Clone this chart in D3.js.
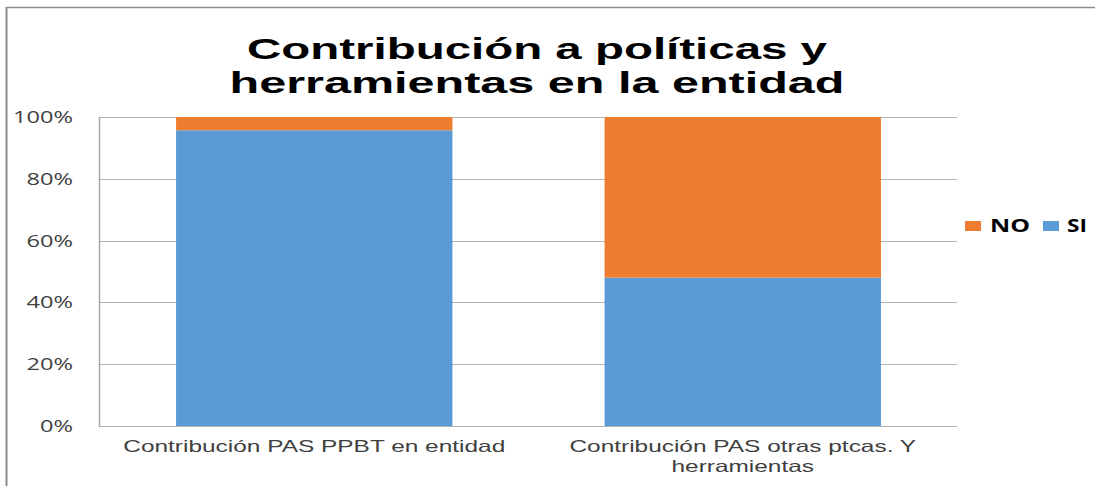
<!DOCTYPE html>
<html>
<head>
<meta charset="utf-8">
<script src="https://cdn.jsdelivr.net/npm/d3@7"></script>
<style>
  html, body { margin: 0; padding: 0; background: #fff; }
  svg { display: block; font-family: "Open Sans", "Liberation Sans", sans-serif; }
</style>
</head>
<body>
<svg id="chart" width="1095" height="486"></svg>
<script>
// Categories and series (percent of responses)
const categories = ["Contribución PAS PPBT en entidad", "Contribución PAS otras ptcas. Y herramientas"];
const categoryLines = [["Contribución PAS PPBT en entidad"], ["Contribución PAS otras ptcas. Y", "herramientas"]];
const seriesNames = ["SI", "NO"];
const siValues = [95.7, 48];
const noValues = [4.3, 52];
const tickValues = [0, 20, 40, 60, 80, 100];
const tickLabels = ["0%", "20%", "40%", "60%", "80%", "100%"];
const titleLines = ["Contribución a políticas y", "herramientas en la entidad"];

const colors = { SI: "#5B9BD5", NO: "#ED7D31" };

const svg = d3.select("#chart");

// Widen every text of a selection by one common factor, chosen so that
// the widest of them reaches targetWidth
function stretchTo(sel, targetWidth) {
  let maxW = 0;
  sel.each(function () { maxW = Math.max(maxW, this.getComputedTextLength()); });
  const f = targetWidth / maxW;
  sel.each(function () {
    const w = this.getComputedTextLength();
    d3.select(this).attr("textLength", w * f).attr("lengthAdjust", "spacingAndGlyphs");
  });
}

// Outer chart border (only left and top edges are visible)
svg.append("line").attr("x1", 6.5).attr("x2", 6.5).attr("y1", 7).attr("y2", 486)
  .attr("stroke", "#8c8c8c").attr("stroke-width", 2);
svg.append("line").attr("x1", 6).attr("x2", 1095).attr("y1", 7.5).attr("y2", 7.5)
  .attr("stroke", "#8c8c8c").attr("stroke-width", 1.5);

const plot = { left: 100, right: 957, top: 117, bottom: 426 };

const x = d3.scaleBand()
  .domain(categories)
  .range([plot.left, plot.right])
  .paddingInner(0.355)
  .paddingOuter(0.1775);

const y = d3.scaleLinear().domain([0, 100]).range([plot.bottom, plot.top]);

// Gridlines
svg.append("g")
  .selectAll("line")
  .data(tickValues)
  .join("line")
  .attr("x1", plot.left).attr("x2", plot.right)
  .attr("y1", d => Math.round(y(d)) + 0.5).attr("y2", d => Math.round(y(d)) + 0.5)
  .attr("stroke", "#b3b3b3").attr("stroke-width", 1.2);

// Stacked bars
const rows = categories.map((c, i) => ({ category: c, SI: siValues[i], NO: noValues[i] }));
const stack = d3.stack().keys(seriesNames)(rows);

svg.append("g")
  .selectAll("g")
  .data(stack)
  .join("g")
  .attr("fill", s => colors[s.key])
  .selectAll("rect")
  .data(s => s)
  .join("rect")
  .attr("x", d => x(d.data.category))
  .attr("width", x.bandwidth())
  .attr("y", d => y(d[1]))
  .attr("height", d => y(d[0]) - y(d[1]));

// Value axis line
svg.append("line")
  .attr("x1", plot.left - 0.5).attr("x2", plot.left - 0.5)
  .attr("y1", plot.top).attr("y2", plot.bottom + 1)
  .attr("stroke", "#a6a6a6").attr("stroke-width", 1.5);

// Y tick labels
const yAxis = d3.axisLeft(y).tickValues(tickValues)
  .tickFormat((d, i) => tickLabels[i]).tickSize(0).tickPadding(27);
const yg = svg.append("g").attr("transform", `translate(${plot.left},0)`).call(yAxis);
yg.select(".domain").remove();
yg.attr("font-family", null).attr("font-size", null);
yg.selectAll("text")
  .style("font-family", "'Open Sans', sans-serif")
  .style("font-size", "15.5px")
  .attr("fill", "#404040")
  .attr("dy", "0.35em")
  .call(stretchTo, 60);

// Category labels
const xg = svg.append("g");
categories.forEach((c, i) => {
  const cx = x(c) + x.bandwidth() / 2;
  categoryLines[i].forEach((ln, j) => {
    xg.append("text")
      .attr("x", cx)
      .attr("y", 452 + j * 20)
      .attr("text-anchor", "middle")
      .style("font-family", "'Liberation Sans', sans-serif")
      .style("font-size", "16.5px")
      .attr("fill", "#404040")
      .text(ln);
  });
});
xg.selectAll("text").call(stretchTo, 382);

// Title, two lines
const titleWidths = [580, 615];
titleLines.forEach((t, i) => {
  svg.append("text")
    .attr("x", 537)
    .attr("y", 59 + i * 34)
    .attr("text-anchor", "middle")
    .style("font-family", "'Liberation Sans', sans-serif")
    .style("font-size", "30px")
    .attr("font-weight", "bold")
    .attr("fill", "#000")
    .attr("textLength", titleWidths[i])
    .attr("lengthAdjust", "spacingAndGlyphs")
    .text(t);
});

// Legend
const legendItems = [
  { key: "NO", sx: 965, tx: 990, w: 40 },
  { key: "SI", sx: 1043, tx: 1067, w: 20 }
];
const lg = svg.append("g");
legendItems.forEach(it => {
  lg.append("rect").attr("x", it.sx).attr("y", 221).attr("width", 16).attr("height", 10)
    .attr("fill", colors[it.key]);
  lg.append("text").attr("x", it.tx).attr("y", 232)
    .style("font-size", "17px").attr("font-weight", "bold").attr("fill", "#000")
    .attr("textLength", it.w).attr("lengthAdjust", "spacingAndGlyphs")
    .text(it.key);
});
</script>
</body>
</html>
